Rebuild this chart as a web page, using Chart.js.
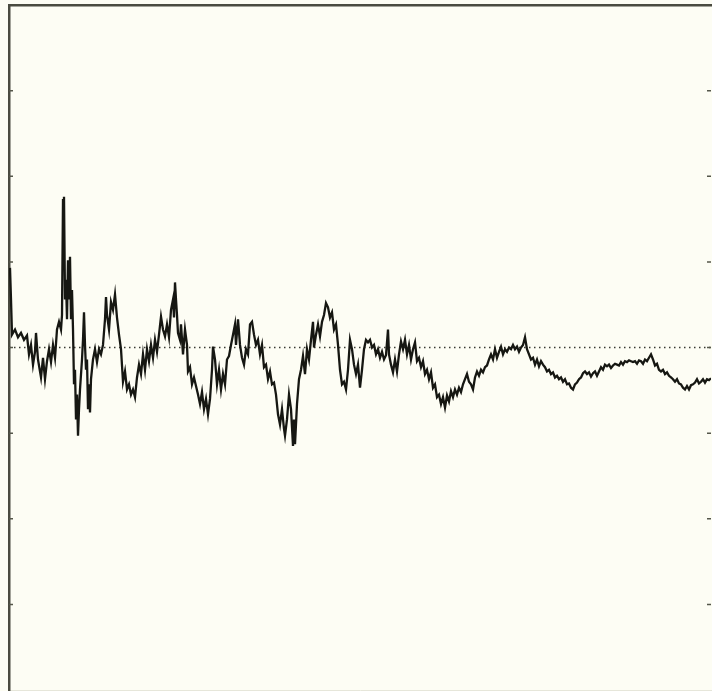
<!DOCTYPE html>
<html>
<head>
<meta charset="utf-8">
<script src="https://cdn.jsdelivr.net/npm/chart.js@4/dist/chart.umd.min.js"></script>
<style>
  html, body { margin: 0; padding: 0; background: #fdfdf4; }
  #wrap { width: 712px; height: 691px; position: relative; }
</style>
</head>
<body>
<div id="wrap"><canvas id="chartTrace"></canvas></div>
<script>
// sample positions (time axis), ten per row, rows line up with values below
const times = [
  0,1,2,5,8,11,14,17,19,21,
  23,25,26,28,31,33,35,37,39,41,
  43,45,47,49,51,52,53,54,55,56,
  57,58,59,60,61,62,63,64,65,66,
  67,68,69,70,72,73,74,75,76,77,
  78,79,80,81,83,85,87,89,91,93,
  95,96,97,99,101,103,105,107,109,111,
  113,115,117,119,121,123,125,127,129,131,
  133,135,137,139,141,143,145,147,149,151,
  153,155,157,159,161,163,164,165,166,167,
  168,170,171,173,175,177,178,180,182,184,
  186,188,190,192,194,196,198,200,202,203,
  205,207,209,211,213,215,217,219,221,223,
  225,226,228,230,232,234,236,238,240,242,
  244,246,248,250,252,254,256,258,260,262,
  264,266,268,270,272,274,275,277,279,281,
  283,284,285,287,289,291,293,295,297,299,
  301,303,304,306,308,310,312,314,316,318,
  320,322,324,326,328,330,332,334,336,338,
  340,342,344,346,348,350,352,354,356,358,
  360,362,364,366,368,370,372,374,376,378,
  379,381,383,385,387,389,391,393,395,397,
  399,401,403,405,407,409,411,413,415,417,
  419,421,423,425,427,429,431,433,435,437,
  439,441,443,445,447,449,451,453,455,457,
  459,461,463,465,467,469,471,473,475,477,
  479,481,483,485,487,489,491,493,495,497,
  499,501,503,505,507,509,511,513,515,517,
  519,521,523,525,527,529,531,533,535,537,
  539,541,543,545,547,549,551,553,555,557,
  559,561,563,565,567,569,571,573,575,577,
  579,581,583,585,587,589,591,593,595,597,
  599,601,603,605,607,609,611,613,615,617,
  619,621,623,625,627,629,631,633,635,637,
  639,641,643,645,647,649,651,653,655,657,
  659,661,663,665,667,669,671,673,675,677,
  679,681,683,685,687,689,691,693,695,697,
  699,701
];
// traced signal values (axis ticks every 1 unit, zero = dotted line)
const values = [
  0.93,0.56,0.15,0.21,0.12,0.17,0.09,0.14,-0.08,0.03,
  -0.20,-0.05,0.17,-0.14,-0.35,-0.12,-0.37,-0.16,-0.02,-0.17,
  0.03,-0.12,0.21,0.30,0.21,0.38,1.72,1.76,0.56,0.79,
  0.33,1.02,0.56,1.06,0.33,0.67,0.21,-0.43,-0.26,-0.84,
  -0.55,-1.03,-0.72,-0.49,-0.14,0.09,0.41,0.03,-0.26,-0.14,
  -0.72,-0.43,-0.76,-0.37,-0.14,-0.02,-0.17,-0.02,-0.08,0.03,
  0.33,0.59,0.38,0.21,0.53,0.44,0.62,0.35,0.15,-0.02,
  -0.40,-0.28,-0.49,-0.43,-0.55,-0.49,-0.58,-0.35,-0.20,-0.31,
  -0.08,-0.26,-0.02,-0.16,0.03,-0.12,0.09,-0.05,0.15,0.36,
  0.21,0.13,0.27,0.12,0.44,0.56,0.35,0.76,0.56,0.38,
  0.17,0.09,0.27,-0.08,0.21,0.03,-0.28,-0.23,-0.43,-0.35,
  -0.45,-0.55,-0.66,-0.52,-0.72,-0.60,-0.78,-0.60,-0.26,0.01,
  -0.14,-0.43,-0.26,-0.49,-0.31,-0.43,-0.14,-0.10,0.03,0.15,
  0.27,0.03,0.33,0.03,-0.12,-0.20,-0.02,-0.08,0.27,0.30,
  0.15,0.03,0.09,-0.08,0.03,-0.23,-0.20,-0.37,-0.28,-0.43,
  -0.41,-0.55,-0.78,-0.90,-0.72,-0.95,-1.03,-0.84,-0.55,-0.72,
  -1.15,-0.84,-1.13,-0.66,-0.37,-0.26,-0.10,-0.31,-0.02,-0.14,
  0.09,0.30,0.00,0.15,0.27,0.13,0.30,0.38,0.52,0.47,
  0.35,0.41,0.21,0.27,0.03,-0.26,-0.43,-0.40,-0.49,-0.26,
  0.09,-0.02,-0.20,-0.31,-0.20,-0.47,-0.26,-0.02,0.09,0.06,
  0.09,0.00,0.03,-0.08,-0.02,-0.12,-0.05,-0.14,-0.09,0.21,
  -0.08,-0.20,-0.29,-0.14,-0.28,-0.08,0.07,-0.02,0.09,-0.08,
  0.03,-0.14,-0.02,0.06,-0.16,-0.12,-0.23,-0.16,-0.31,-0.26,
  -0.37,-0.29,-0.47,-0.43,-0.58,-0.55,-0.66,-0.58,-0.70,-0.56,
  -0.63,-0.51,-0.58,-0.49,-0.55,-0.47,-0.52,-0.43,-0.37,-0.31,
  -0.40,-0.43,-0.49,-0.35,-0.28,-0.33,-0.26,-0.29,-0.23,-0.21,
  -0.14,-0.08,-0.14,-0.02,-0.12,-0.05,0.01,-0.08,-0.02,-0.05,
  0.00,-0.02,0.03,-0.02,0.01,-0.05,0.00,0.03,0.12,-0.02,
  -0.08,-0.14,-0.12,-0.20,-0.14,-0.22,-0.16,-0.20,-0.23,-0.28,
  -0.26,-0.31,-0.29,-0.35,-0.33,-0.37,-0.35,-0.40,-0.37,-0.43,
  -0.42,-0.47,-0.49,-0.43,-0.41,-0.37,-0.35,-0.30,-0.28,-0.31,
  -0.29,-0.34,-0.30,-0.28,-0.33,-0.28,-0.23,-0.26,-0.20,-0.22,
  -0.20,-0.24,-0.21,-0.19,-0.20,-0.21,-0.17,-0.20,-0.16,-0.17,
  -0.15,-0.16,-0.17,-0.16,-0.19,-0.15,-0.16,-0.19,-0.14,-0.16,
  -0.12,-0.08,-0.14,-0.21,-0.19,-0.26,-0.28,-0.26,-0.31,-0.29,
  -0.33,-0.35,-0.37,-0.40,-0.37,-0.42,-0.43,-0.47,-0.49,-0.45,
  -0.49,-0.44,-0.43,-0.41,-0.37,-0.42,-0.40,-0.37,-0.41,-0.37,
  -0.38,-0.36
];
const yTicks = [-3, -2, -1, 0, 1, 2, 3];

// short inward tick marks on both vertical sides
const innerTicks = {
  id: 'innerTicks',
  afterDraw(chart) {
    const { ctx, chartArea, scales } = chart;
    ctx.save();
    ctx.strokeStyle = '#55574a';
    ctx.lineWidth = 1.5;
    yTicks.forEach(v => {
      const py = scales.y.getPixelForValue(v);
      ctx.beginPath();
      ctx.moveTo(chartArea.left, py); ctx.lineTo(chartArea.left + 4, py);
      ctx.moveTo(chartArea.right, py); ctx.lineTo(chartArea.right - 4, py);
      ctx.stroke();
    });
    ctx.restore();
  }
};

const points = times.map((t, i) => ({ x: t, y: values[i] }));
const noSize = s => { if (s.isHorizontal()) s.height = 0; else s.width = 0; };

new Chart(document.getElementById('chartTrace'), {
  type: 'line',
  data: {
    datasets: [
      {
        data: points,
        borderColor: '#161712',
        borderWidth: 2.3,
        pointRadius: 0,
        tension: 0
      },
      {
        data: [{ x: -1, y: 0 }, { x: 701, y: 0 }],
        borderColor: '#3a3b33',
        borderWidth: 1.5,
        borderDash: [1.5, 3.5],
        pointRadius: 0
      }
    ]
  },
  options: {
    responsive: true, maintainAspectRatio: false, animation: false,
    layout: { padding: { left: 9, top: 5, right: 1, bottom: 1 } },
    plugins: { legend: { display: false }, tooltip: { enabled: false } },
    scales: {
      x: {
        type: 'linear', min: -1, max: 701, afterFit: noSize,
        ticks: { display: false }, grid: { display: false },
        border: { display: true, color: '#e6e6da', width: 1 }
      },
      xTop: {
        type: 'linear', position: 'top', min: -1, max: 701, afterFit: noSize,
        ticks: { display: false }, grid: { display: false },
        border: { display: true, color: '#4a4b40', width: 2.5 }
      },
      y: {
        min: -4, max: 4, afterFit: noSize,
        ticks: { display: false }, grid: { display: false },
        border: { display: true, color: '#4a4b40', width: 2.5 }
      }
    }
  },
  plugins: [innerTicks]
});
</script>
</body>
</html>
